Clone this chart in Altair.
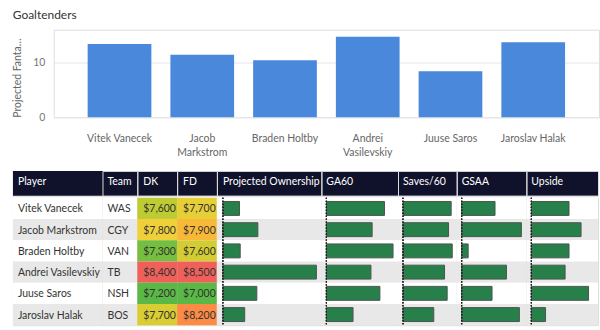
import altair as alt
import pandas as pd

# ---------------- data ----------------
players = ["Vitek Vanecek", "Jacob Markstrom", "Braden Holtby",
           "Andrei Vasilevskiy", "Juuse Saros", "Jaroslav Halak"]
proj_points = [13.4, 11.4, 10.4, 14.7, 8.4, 13.7]
teams = ["WAS", "CGY", "VAN", "TB", "NSH", "BOS"]
dk_salary = [7600, 7800, 7300, 8400, 7200, 7700]
fd_salary = [7700, 7900, 7600, 8500, 7000, 8200]
proj_ownership = [4.8, 10.1, 5.0, 27.0, 9.8, 6.3]
ga60 = [2.92, 2.30, 3.35, 2.24, 2.69, 1.34]
saves60 = [31.3, 29.6, 32.0, 27.0, 28.7, 20.0]
gsaa = [6.7, 12.0, 1.3, 9.0, 6.1, 11.6]
upside = [19.1, 25.2, 19.1, 17.1, 29.0, 7.2]
headers = ["Player", "Team", "DK", "FD", "Projected Ownership",
           "GA60", "Saves/60", "GSAA", "Upside"]
y_ticks = [0, 10]

FONT = "Lato"
FS = 10.5
NAVY = "#10112b"
BLUE = "#4a88dc"
GREEN = "#27804a"
HEAT = ["#5ab946", "#f0d03a", "#f0605a"]

# ---------------- top bar chart ----------------
top_df = pd.DataFrame({"Player": players, "Points": proj_points})
top = alt.Chart(top_df).mark_bar(color=BLUE).encode(
    x=alt.X("Player:N", sort=players, title=None,
            scale=alt.Scale(paddingInner=0.23, paddingOuter=0.41),
            axis=alt.Axis(labelAngle=0, domain=False, ticks=False, labelPadding=16,
                          labelExpr="length(datum.label) >= 15 ? split(datum.label, ' ') : datum.label",
                          labelLineHeight=14.4, labelColor="#666", labelFontSize=FS,
                          labelFont=FONT, labelLimit=200, labelOverlap=False)),
    y=alt.Y("Points:Q", title="Projected Fantasy Points",
            scale=alt.Scale(domain=[0, 16], nice=False),
            axis=alt.Axis(values=y_ticks, domain=False, ticks=False, gridColor="#e6e6e6",
                          labelPadding=9, labelColor="#777", labelFontSize=FS, labelFont=FONT,
                          titleFontSize=FS, titleFontWeight="normal", titleColor="#666",
                          titleFont=FONT, titleLimit=80, titleAnchor="start", titlePadding=10)),
).properties(
    width=548, height=88,
    title=alt.TitleParams("Goaltenders", anchor="start", frame="bounds", fontSize=12,
                          fontWeight="normal", color="#333", font=FONT, offset=8),
)

spacer_df = pd.DataFrame({"s": [0]})


def spacer(w, h=1):
    # invisible block whose bounds are exactly [0, w] x [0, h]
    return alt.Chart(spacer_df).mark_rect(opacity=0).encode(
        tooltip=alt.value(None)).properties(width=w, height=h)


# ---------------- table ----------------
tbl = pd.DataFrame({
    "Player": players, "Team": teams, "DK": dk_salary, "FD": fd_salary,
    "Own": proj_ownership, "GA60": ga60, "Saves": saves60, "GSAA": gsaa,
    "Upside": upside, "Stripe": ["a", "b", "a", "b", "a", "b"],
})
ROW_H = 128
HEADER_H = 25
base = alt.Chart(tbl)
yenc = alt.Y("Player:N", sort=players, axis=None,
             scale=alt.Scale(paddingInner=0, paddingOuter=0))
stripe_color = alt.Color("Stripe:N", legend=None,
                         scale=alt.Scale(domain=["a", "b"], range=["#ffffff", "#e8e8e8"]))


def stripes():
    return base.mark_rect().encode(y=yenc, color=stripe_color)


def text_col(field, w):
    t = base.mark_text(align="left", baseline="middle", font=FONT, fontSize=FS,
                       color="#333", dy=1).encode(y=yenc, x=alt.value(5), text=f"{field}:N")
    return alt.layer(stripes(), t).properties(width=w, height=ROW_H)


def heat_col(field, vals, w):
    dom = [min(vals), (min(vals) + max(vals)) / 2, max(vals)]
    r = base.mark_rect().encode(
        y=yenc, color=alt.Color(f"{field}:Q", legend=None,
                                scale=alt.Scale(domain=dom, range=HEAT)))
    t = base.mark_text(align="left", baseline="middle", font=FONT, fontSize=FS,
                       color="#333", dy=1).encode(
        y=yenc, x=alt.value(6), text=alt.Text(f"{field}:Q", format="$,.0f"))
    return alt.layer(r, t).properties(width=w, height=ROW_H)


def bar_col(field, vals, w, start, end):
    xs = alt.Scale(domain=[0, max(vals)], range=[start, end], nice=False, zero=True)
    b = base.mark_bar(size=14, color=GREEN, stroke="#4d5550", strokeWidth=1).encode(
        y=yenc, x=alt.X(f"{field}:Q", axis=None, scale=xs))
    r = base.mark_rule(strokeDash=[1, 2], color="#222", strokeWidth=1).encode(x=alt.datum(0))
    return alt.layer(stripes(), b, r).properties(width=w, height=ROW_H)


widths = [90, 35, 40, 40, 105, 77, 59, 70, 72]
header_dx = [5, 5, 6, 6, 6, 5, 5, 5, 5]
TABLE_W = sum(widths)


def header_cell(label, w, dx, first=False):
    hd = alt.Chart(pd.DataFrame({"h": [label]}))
    tx = hd.mark_text(align="left", baseline="middle", color="white", font=FONT,
                      fontSize=FS).encode(text="h:N", x=alt.value(dx), y=alt.value(11.5))
    if first:
        # one continuous dark header band behind all header cells
        bg = hd.mark_rect(color=NAVY).encode(
            x=alt.value(0), x2=alt.value(TABLE_W), y=alt.value(0), y2=alt.value(HEADER_H))
        return alt.layer(bg, tx).properties(width=w, height=HEADER_H)
    return tx.properties(width=w, height=HEADER_H)


header_row = alt.hconcat(
    *[header_cell(h, w, d, i == 0) for i, (h, w, d) in enumerate(zip(headers, widths, header_dx))],
    spacing=0, bounds="flush")

body_row = alt.hconcat(
    text_col("Player", widths[0]),
    text_col("Team", widths[1]),
    heat_col("DK", dk_salary, widths[2]),
    heat_col("FD", fd_salary, widths[3]),
    bar_col("Own", proj_ownership, widths[4], 6, 100),
    bar_col("GA60", ga60, widths[5], 5, 72),
    bar_col("Saves", saves60, widths[6], 5, 54.5),
    bar_col("GSAA", gsaa, widths[7], 5, 65),
    bar_col("Upside", upside, widths[8], 5, 62.5),
    spacing=0, bounds="flush",
).resolve_scale(color="independent")

table = alt.hconcat(spacer(1), alt.vconcat(header_row, body_row, spacing=0), spacing=0)
top_row = alt.hconcat(spacer(1), top, spacing=0)

chart = alt.vconcat(top_row, table, spacing=11).properties(
    padding={"left": 11, "top": 7, "right": 0, "bottom": 0},
    background="white",
).configure_view(strokeWidth=0).configure(font=FONT)

chart.save("out.html", embed_options={"renderer": "svg", "actions": False})
